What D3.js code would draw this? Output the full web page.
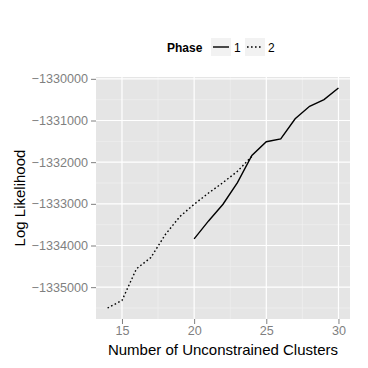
<!DOCTYPE html>
<html>
<head>
<meta charset="utf-8">
<script src="https://cdn.jsdelivr.net/npm/d3@7"></script>
<style>
  body { margin: 0; background: #fff; }
  text { font-family: 'Liberation Sans', Arial, sans-serif; }
</style>
</head>
<body>
<svg id="chart"></svg>
<script>
const width = 368;
const height = 368;

// data
const phase1Clusters = [20, 21, 22, 23, 24, 25, 26, 27, 28, 29, 30];
const phase1Values = [-1333840, -1333410, -1333010, -1332490, -1331840, -1331510, -1331440, -1330960, -1330660, -1330500, -1330220];
const phase2Clusters = [14, 15, 16, 17, 18, 19, 20, 21, 22, 23, 24];
const phase2Values = [-1335500, -1335320, -1334560, -1334290, -1333740, -1333310, -1333010, -1332740, -1332490, -1332220, -1331860];
const phaseNames = ['1', '2'];
const xTicks = [15, 20, 25, 30];
const yTicks = [-1335000, -1334000, -1333000, -1332000, -1331000, -1330000];

const series = [
    { name: phaseNames[0], dash: null, points: phase1Clusters.map((x, i) => ({ x, y: phase1Values[i] })) },
    { name: phaseNames[1], dash: '1.6,2.4', points: phase2Clusters.map((x, i) => ({ x, y: phase2Values[i] })) }
];

const panel = { left: 96, right: 350, top: 77, bottom: 319 };

const allPoints = series.flatMap(s => s.points);
const xExt = d3.extent(allPoints, d => d.x);
const yExt = d3.extent(allPoints, d => d.y);
const xPad = (xExt[1] - xExt[0]) * 0.05;
const yPad = (yExt[1] - yExt[0]) * 0.05;

const xScale = d3.scaleLinear()
    .domain([xExt[0] - xPad, xExt[1] + xPad])
    .range([panel.left, panel.right]);

const yScale = d3.scaleLinear()
    .domain([yExt[0] - yPad, yExt[1] + yPad])
    .range([panel.bottom, panel.top]);

const svg = d3.select('#chart')
    .attr('width', width)
    .attr('height', height);

svg.append('rect')
    .attr('x', panel.left)
    .attr('y', panel.top)
    .attr('width', panel.right - panel.left)
    .attr('height', panel.bottom - panel.top)
    .attr('fill', '#e5e5e5');

// minor grid
const xMinor = xTicks.slice(0, -1).map((t, i) => (t + xTicks[i + 1]) / 2);
const yMinor = yTicks.slice(0, -1).map((t, i) => (t + yTicks[i + 1]) / 2)
    .concat([yTicks[0] - 500]);

svg.append('g').selectAll('line')
    .data(xMinor)
    .enter()
    .append('line')
    .attr('x1', d => xScale(d)).attr('x2', d => xScale(d))
    .attr('y1', panel.top).attr('y2', panel.bottom)
    .attr('stroke', '#f2f2f2').attr('stroke-width', 0.6);

svg.append('g').selectAll('line')
    .data(yMinor.filter(d => yScale(d) < panel.bottom))
    .enter()
    .append('line')
    .attr('x1', panel.left).attr('x2', panel.right)
    .attr('y1', d => yScale(d)).attr('y2', d => yScale(d))
    .attr('stroke', '#f2f2f2').attr('stroke-width', 0.6);

// major grid
svg.append('g').selectAll('line')
    .data(xTicks)
    .enter()
    .append('line')
    .attr('x1', d => xScale(d)).attr('x2', d => xScale(d))
    .attr('y1', panel.top).attr('y2', panel.bottom)
    .attr('stroke', '#fff').attr('stroke-width', 1.2);

svg.append('g').selectAll('line')
    .data(yTicks)
    .enter()
    .append('line')
    .attr('x1', panel.left).attr('x2', panel.right)
    .attr('y1', d => yScale(d)).attr('y2', d => yScale(d))
    .attr('stroke', '#fff').attr('stroke-width', 1.2);

// axes
const xAxis = d3.axisBottom(xScale).tickValues(xTicks).tickSize(5).tickPadding(2);
const yAxis = d3.axisLeft(yScale).tickValues(yTicks).tickSize(5).tickPadding(3)
    .tickFormat(d => '\u2212' + Math.abs(d));

const xAxisGroup = svg.append('g')
    .attr('transform', `translate(0, ${panel.bottom})`)
    .call(xAxis);

const yAxisGroup = svg.append('g')
    .attr('transform', `translate(${panel.left}, 0)`)
    .call(yAxis);

[xAxisGroup, yAxisGroup].forEach(g => {
    g.select('.domain').remove();
    g.selectAll('line').attr('stroke', '#7f7f7f').attr('stroke-width', 1);
    g.selectAll('text')
        .attr('fill', '#7f7f7f')
        .style('font-size', '12.6px');
});

// lines
const line = d3.line()
    .x(d => xScale(d.x))
    .y(d => yScale(d.y));

svg.append('g').selectAll('path')
    .data(series)
    .enter()
    .append('path')
    .attr('d', d => line(d.points))
    .attr('fill', 'none')
    .attr('stroke', '#000')
    .attr('stroke-width', 1.4)
    .attr('stroke-dasharray', d => d.dash);

// axis titles
svg.append('text')
    .attr('x', (panel.left + panel.right) / 2)
    .attr('y', 355)
    .attr('text-anchor', 'middle')
    .style('font-size', '15px')
    .text('Number of Unconstrained Clusters');

svg.append('text')
    .attr('transform', `translate(25, ${(panel.top + panel.bottom) / 2}) rotate(-90)`)
    .attr('text-anchor', 'middle')
    .style('font-size', '15px')
    .text('Log Likelihood');

// legend
const legend = svg.append('g').attr('transform', 'translate(0, 47)');

legend.append('text')
    .attr('x', 167)
    .attr('y', 4.5)
    .style('font-size', '12px')
    .style('font-weight', 'bold')
    .text('Phase');

const keyX = [211, 245];
series.forEach((s, i) => {
    legend.append('rect')
        .attr('x', keyX[i])
        .attr('y', -9)
        .attr('width', 20)
        .attr('height', 18)
        .attr('fill', '#f2f2f2');
    legend.append('line')
        .attr('x1', keyX[i] + 2)
        .attr('x2', keyX[i] + 18)
        .attr('y1', 0)
        .attr('y2', 0)
        .attr('stroke', '#000')
        .attr('stroke-width', 1.4)
        .attr('stroke-dasharray', s.dash);
    legend.append('text')
        .attr('x', keyX[i] + 23)
        .attr('y', 4.5)
        .style('font-size', '12px')
        .text(s.name);
});
</script>
</body>
</html>
